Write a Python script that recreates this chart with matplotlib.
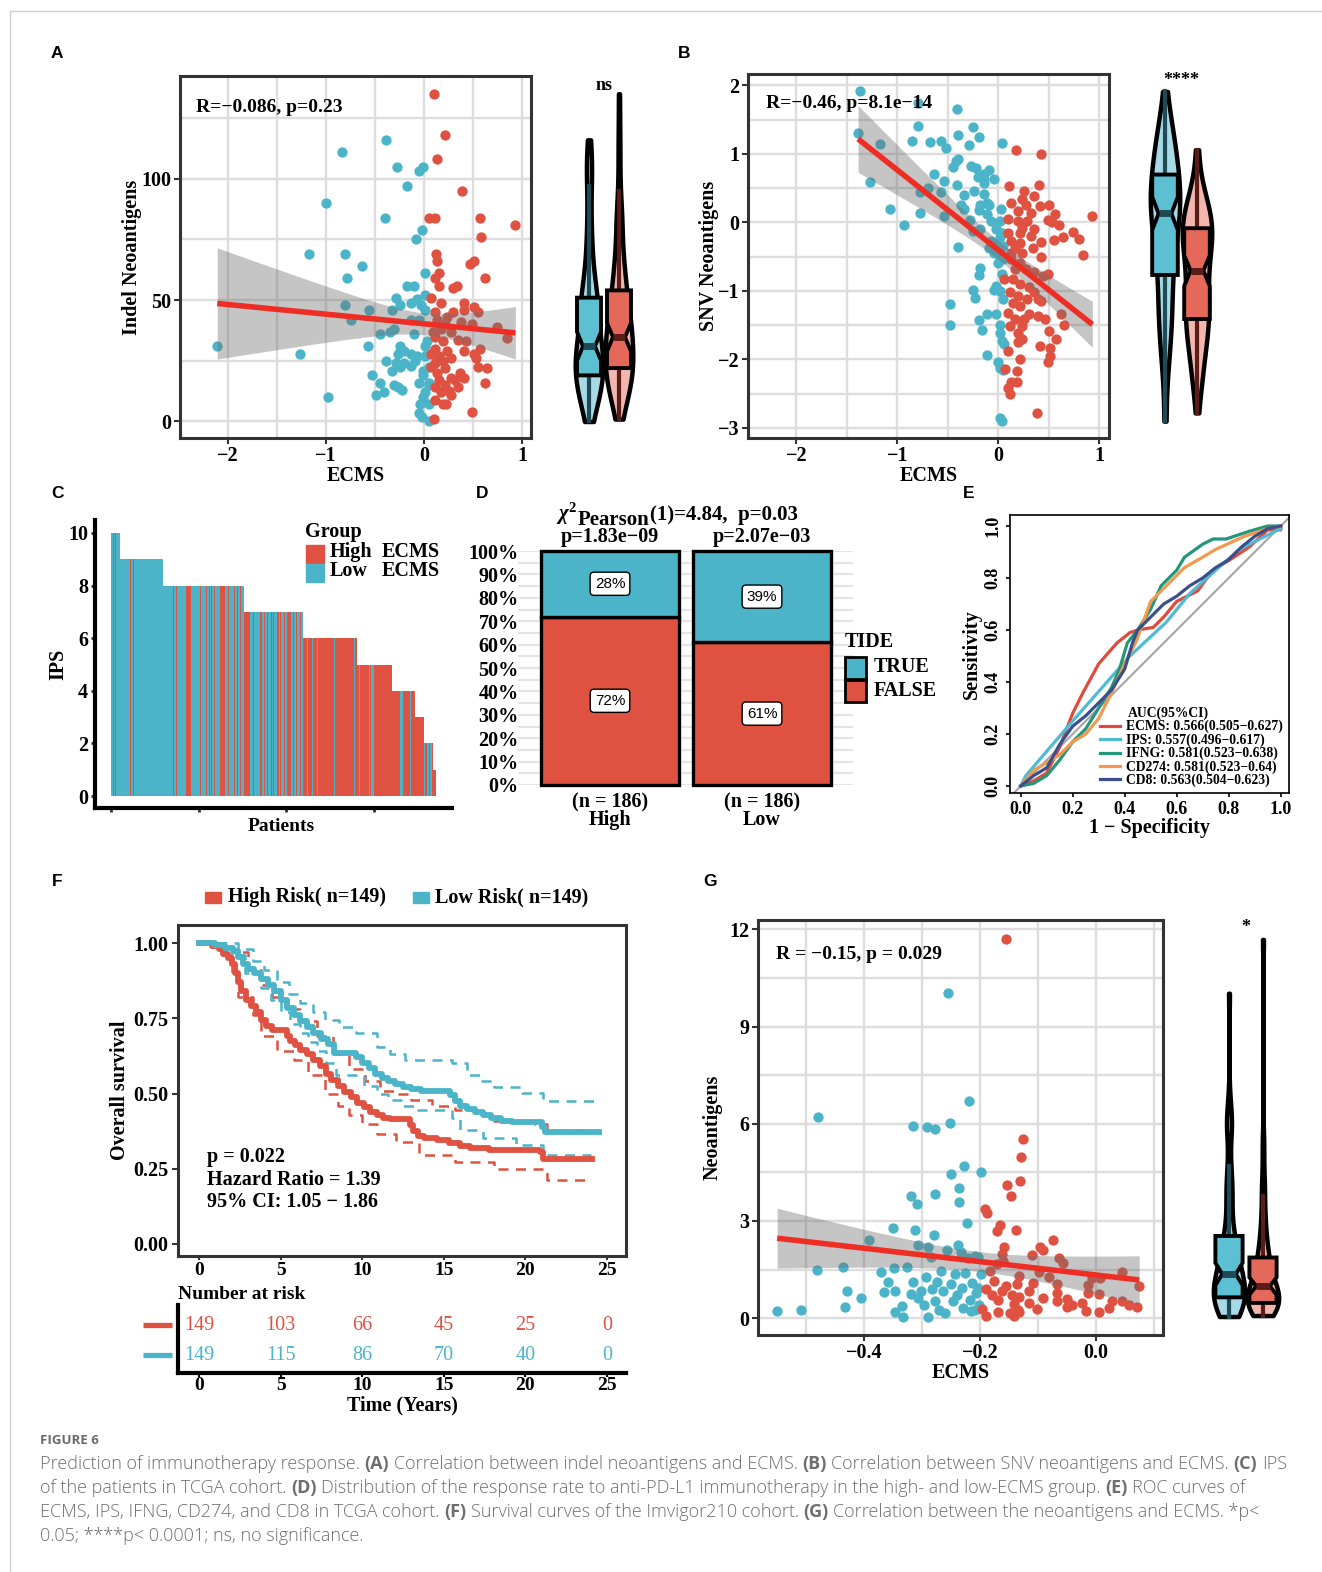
import numpy as np
import matplotlib
matplotlib.use("Agg")
import matplotlib.pyplot as plt
from matplotlib.patches import Rectangle

# ======================= DATA =======================
# Panel A : Indel neoantigens vs ECMS (Low = blue, High = red)
a_low_x = [-0.39, -0.84, -0.28, -0.01, -0.05, -0.17, -1.0, -0.40, -0.02, -0.08,
           -1.17, -0.81, -0.63, -0.79, 0.01, -0.17, -0.10, 0.01, -0.29, -0.13,
           -0.07, -0.25, -0.33, -0.81, -0.56, -0.03, 0.01, -0.05, -0.13, -0.75,
           -0.31, -0.35, -0.45, -0.10, 0.03, 0.01, -0.57, -2.11, -0.25, -0.21,
           -0.27, -0.13, -0.07, -1.27, 0.01, -0.39, -0.29, -0.21, -0.13, -0.09,
           -0.33, -0.25, -0.01, 0.05, -0.53, -0.01, -0.45, -0.05, 0.05, -0.31,
           -0.27, -0.23, 0.05, -0.41, -0.49, 0.01, -0.01, -0.98, -0.04, 0.05,
           -0.05, -0.02, 0.05]
a_low_y = [116, 111, 105, 105, 103, 97, 90, 84, 79, 75,
           69, 69, 64, 59, 61, 56, 56, 52, 51, 49,
           50.5, 48, 46, 48, 46, 48, 46, 42, 42, 42,
           38, 37, 36, 36, 33, 31, 31, 31, 31, 29,
           28, 28, 27, 28, 27, 25, 24, 24, 23, 25,
           21, 22.5, 21, 22.5, 19, 19, 16, 16, 16, 15,
           14, 13, 15, 12, 11, 12, 10, 10, 7, 7,
           3.4, 2, 0]
a_high_x = [0.10, 0.21, 0.13, 0.39, 0.05, 0.11, 0.57, 0.93, 0.58, 0.12,
            0.13, 0.47, 0.51, 0.62, 0.11, 0.15, 0.15, 0.29, 0.34, 0.07,
            0.17, 0.41, 0.51, 0.41, 0.55, 0.29, 0.11, 0.23, 0.13, 0.38,
            0.49, 0.21, 0.74, 0.17, 0.09, 0.27, 0.11, 0.35, 0.85, 0.19,
            0.43, 0.57, 0.11, 0.23, 0.41, 0.07, 0.15, 0.27, 0.51, 0.19,
            0.11, 0.53, 0.07, 0.21, 0.55, 0.64, 0.13, 0.37, 0.41, 0.27,
            0.15, 0.31, 0.62, 0.21, 0.35, 0.11, 0.25, 0.17, 0.27, 0.11,
            0.19, 0.22, 0.49, 0.10]
a_high_y = [135, 118, 108, 95, 84, 84, 84, 81, 76, 69,
            66, 65, 66, 59, 59, 61, 56, 55, 56, 51,
            49, 49, 47, 46, 45, 45, 45, 43, 42, 41,
            40, 40, 39, 38, 37, 37, 35, 33.5, 34.5, 33,
            33, 30, 30, 29, 29, 28, 27, 26, 27.6, 25,
            24, 26, 22.5, 22, 22.5, 22, 20, 20, 18, 18,
            17, 17, 16, 15, 14, 14, 12.6, 12, 11, 9,
            7, 7, 4, 1]

# Panel B : SNV neoantigens vs ECMS
b_low_x = [-1.37, -0.80, -0.41, -1.39, -0.80, -0.25, -0.40, -0.19, -1.17, -0.86,
           -0.68, -0.57, -0.52, -0.29, 0.04, -0.42, -0.40, -0.45, -0.27, -0.22,
           -0.09, -0.14, -0.64, -0.20, -0.14, -0.04, -0.54, -1.27, -0.14, -0.41,
           -0.70, -0.57, -0.24, -0.78, -0.34, -0.14, -0.11, -0.18, -0.09, -0.37,
           -1.07, -0.34, -0.19, 0.03, -0.78, -0.11, -0.54, -0.28, -0.07, 0.02,
           -0.94, -0.18, -0.02, -0.25, 0.04, 0.02, -0.07, 0.0, 0.05, -0.40,
           -0.09, -0.04, 0.02, 0.05, 0.0, -0.18, -0.19, 0.04, -0.02, -0.25,
           -0.04, -0.23, 0.02, 0.05, -0.48, -0.11, -0.02, -0.19, -0.48, -0.16,
           0.02, 0.02, 0.04, 0.06, -0.11, 0.0, 0.02, 0.05, 0.02, 0.04]
b_low_y = [1.91, 1.74, 1.66, 1.31, 1.41, 1.39, 1.28, 1.25, 1.15, 1.19,
           1.17, 1.19, 1.08, 1.13, 1.16, 0.89, 0.93, 0.81, 0.82, 0.79,
           0.77, 0.71, 0.71, 0.66, 0.63, 0.63, 0.60, 0.59, 0.58, 0.54,
           0.50, 0.45, 0.46, 0.44, 0.40, 0.41, 0.29, 0.26, 0.26, 0.25,
           0.20, 0.19, 0.18, 0.19, 0.14, 0.12, 0.09, 0.04, 0.02, 0.02,
           -0.04, -0.10, -0.10, -0.13, -0.15, -0.22, -0.27, -0.30, -0.34, -0.36,
           -0.37, -0.44, -0.49, -0.54, -0.59, -0.66, -0.77, -0.76, -0.93, -0.98,
           -0.99, -1.10, -1.0, -1.12, -1.19, -1.33, -1.33, -1.42, -1.50, -1.57,
           -1.49, -1.61, -1.73, -1.78, -1.94, -2.04, -2.12, -2.15, -2.85, -2.90]
b_high_x = [0.17, 0.42, 0.10, 0.40, 0.25, 0.35, 0.23, 0.12, 0.27, 0.41,
            0.50, 0.19, 0.32, 0.56, 0.93, 0.09, 0.49, 0.19, 0.28, 0.53,
            0.60, 0.23, 0.35, 0.74, 0.09, 0.21, 0.32, 0.64, 0.55, 0.80,
            0.12, 0.21, 0.42, 0.16, 0.34, 0.12, 0.23, 0.84, 0.42, 0.12,
            0.21, 0.16, 0.27, 0.35, 0.49, 0.44, 0.06, 0.14, 0.21, 0.30,
            0.11, 0.35, 0.19, 0.28, 0.39, 0.14, 0.42, 0.21, 0.09, 0.30,
            0.39, 0.16, 0.25, 0.46, 0.62, 0.11, 0.23, 0.65, 0.50, 0.19,
            0.57, 0.23, 0.19, 0.41, 0.51, 0.09, 0.51, 0.21, 0.49, 0.07,
            0.18, 0.12, 0.18, 0.09, 0.11, 0.38]
b_high_y = [1.06, 1.0, 0.53, 0.54, 0.46, 0.38, 0.34, 0.29, 0.26, 0.24,
            0.26, 0.17, 0.14, 0.12, 0.09, 0.05, 0.04, 0.02, 0.02, 0.0,
            -0.04, -0.08, -0.10, -0.14, -0.15, -0.16, -0.20, -0.21, -0.25, -0.24,
            -0.27, -0.30, -0.29, -0.37, -0.37, -0.44, -0.44, -0.47, -0.50, -0.54,
            -0.59, -0.68, -0.68, -0.73, -0.75, -0.78, -0.82, -0.83, -0.90, -0.95,
            -1.02, -1.02, -1.07, -1.12, -1.12, -1.17, -1.15, -1.22, -1.32, -1.34,
            -1.37, -1.41, -1.41, -1.41, -1.34, -1.51, -1.51, -1.50, -1.59, -1.61,
            -1.70, -1.70, -1.75, -1.80, -1.83, -1.87, -1.95, -2.0, -2.04, -2.14,
            -2.17, -2.33, -2.33, -2.41, -2.50, -2.78]

# Panel C : IPS per patient (level, run-length of groups L=Low ECMS, H=High ECMS)
ips_levels = [10, 9, 8, 7, 6, 5, 4, 3, 2, 1]
ips_group_runs = [
    "L2 H1 L2 H1 L4",
    "L9 H1 L2 H1 L2 H1 L1 H1 L15 H1 L15",
    "L12 H1 L2 H1 L11 H5 L11 H1 L6 H1 L2 H1 L2 H1 L2 H1 L6 H6 L3 H1 L3 H1 L2 H1 L2 H1 L3 H1 L3",
    "H7 L4 H1 L7 H2 L2 H1 L2 H2 L3 H1 L2 H1 L3 H2 L2 H1 L3 H1 L3 H4 L2 H1 L3 H1 L3 H1 L3",
    "H4 L1 H5 L1 H5 L1 H12 L1 H5 L1 H22 L1 H3",
    "H2 L1 H3 L1 H6 L2 H1 L3 H3 L1 H17",
    "H9 L3 H8 L1 H5",
    "H10",
    "L1 H1 L1 H1 L2 H1 L2 H1 L1",
    "H3",
]

# Panel D : TIDE response
tide_groups = ["High", "Low"]
tide_n = [186, 186]
tide_true_pct = [28, 39]
tide_false_pct = [72, 61]
tide_group_p = ["p=1.83e\u221209", "p=2.07e\u221203"]

# Panel E : ROC curves
roc_ecms_fpr = [0, 0.05, 0.1, 0.15, 0.2, 0.24, 0.3, 0.37, 0.42, 0.45, 0.51, 0.55, 0.6, 0.68, 0.74, 0.82, 0.88, 0.95, 1.0, 1.0]
roc_ecms_tpr = [0, 0.02, 0.05, 0.15, 0.28, 0.36, 0.47, 0.55, 0.59, 0.60, 0.61, 0.65, 0.71, 0.75, 0.83, 0.88, 0.92, 0.985, 0.985, 1.0]
roc_ips_fpr = [0, 0.02, 0.2, 0.42, 0.56, 0.65, 0.75, 0.84, 1.0]
roc_ips_tpr = [0, 0.04, 0.25, 0.5, 0.63, 0.74, 0.83, 0.91, 0.99]
roc_ifng_fpr = [0, 0.05, 0.1, 0.15, 0.2, 0.25, 0.3, 0.35, 0.38, 0.41, 0.45, 0.5, 0.54, 0.6, 0.63, 0.7, 0.74, 0.79, 0.88, 0.95, 1.0]
roc_ifng_tpr = [0, 0.01, 0.04, 0.1, 0.17, 0.22, 0.3, 0.38, 0.45, 0.55, 0.6, 0.68, 0.77, 0.83, 0.88, 0.93, 0.95, 0.95, 0.98, 1.0, 1.0]
roc_cd274_fpr = [0, 0.05, 0.1, 0.15, 0.2, 0.25, 0.3, 0.35, 0.4, 0.446, 0.5, 0.55, 0.63, 0.7, 0.75, 0.86, 0.95, 1.0]
roc_cd274_tpr = [0, 0.06, 0.09, 0.12, 0.17, 0.2, 0.26, 0.36, 0.47, 0.56, 0.71, 0.76, 0.84, 0.88, 0.91, 0.96, 0.99, 1.0]
roc_cd8_fpr = [0, 0.05, 0.1, 0.15, 0.2, 0.25, 0.3, 0.35, 0.4, 0.43, 0.45, 0.5, 0.55, 0.6, 0.65, 0.7, 0.75, 0.8, 0.85, 0.9, 0.95, 1.0]
roc_cd8_tpr = [0, 0.04, 0.07, 0.16, 0.23, 0.27, 0.32, 0.37, 0.45, 0.55, 0.6, 0.65, 0.7, 0.73, 0.77, 0.8, 0.84, 0.87, 0.92, 0.96, 0.99, 1.0]
roc_labels = ["ECMS: 0.566(0.505\u22120.627)", "IPS: 0.557(0.496\u22120.617)",
              "IFNG: 0.581(0.523\u22120.638)", "CD274: 0.581(0.523\u22120.64)",
              "CD8: 0.563(0.504\u22120.623)"]
roc_colors = ["#DF4A3B", "#4FBAD3", "#23977A", "#F2984F", "#3B4F8C"]

# Panel F : Kaplan-Meier
km_high_t = [0, 0.8, 1.2, 1.5, 1.8, 2.0, 2.2, 2.4, 2.6, 2.9,
             3.2, 3.5, 3.8, 4.1, 4.5, 5.4, 5.6, 5.9, 6.2, 6.6,
             7.0, 7.4, 7.8, 8.1, 8.5, 8.9, 9.3, 9.7, 10.1, 10.5,
             10.9, 11.3, 11.7, 12.9, 13.1, 13.4, 13.8, 14.6, 15.3, 16.0,
             16.6, 17.8, 20.9, 21.1, 24.1]
km_high_s = [1.0, 0.99, 0.98, 0.965, 0.95, 0.93, 0.90, 0.87, 0.84, 0.81,
             0.79, 0.77, 0.745, 0.725, 0.71, 0.69, 0.675, 0.66, 0.645, 0.63,
             0.61, 0.59, 0.565, 0.545, 0.525, 0.505, 0.49, 0.47, 0.455, 0.44,
             0.43, 0.42, 0.414, 0.395, 0.375, 0.36, 0.352, 0.345, 0.335, 0.325,
             0.318, 0.312, 0.305, 0.283, 0.283]
km_low_t = [0, 1.0, 1.6, 2.1, 2.4, 2.7, 3.0, 3.4, 3.8, 4.2,
            4.6, 5.0, 5.4, 5.8, 6.2, 6.6, 7.0, 7.5, 7.9, 8.3,
            9.6, 10.0, 10.4, 10.8, 11.2, 11.6, 12.0, 12.5, 13.0, 13.6,
            15.4, 15.7, 16.0, 16.4, 16.9, 17.4, 17.9, 18.5, 19.2, 19.7,
            21.0, 21.2, 24.5]
km_low_s = [1.0, 0.995, 0.985, 0.975, 0.955, 0.93, 0.915, 0.90, 0.88, 0.86,
            0.84, 0.81, 0.785, 0.76, 0.74, 0.72, 0.70, 0.68, 0.665, 0.635,
            0.62, 0.60, 0.585, 0.565, 0.55, 0.54, 0.53, 0.52, 0.515, 0.51,
            0.495, 0.475, 0.46, 0.45, 0.44, 0.43, 0.42, 0.41, 0.405, 0.405,
            0.39, 0.372, 0.372]
ci_high_up_t = [0, 2.0, 3.0, 3.8, 4.5, 5.3, 6.2, 7.2, 8.2, 9.2, 10.2, 11.1, 12.0, 13.0, 14.3, 15.7, 17.0, 18.1, 20.6, 21.3, 24.0]
ci_high_up_s = [1.0, 0.97, 0.91, 0.86, 0.82, 0.78, 0.74, 0.69, 0.63, 0.58, 0.54, 0.51, 0.50, 0.48, 0.46, 0.445, 0.43, 0.41, 0.40, 0.38, 0.38]
ci_high_lo_t = [0, 1.5, 2.0, 2.4, 3.3, 3.8, 4.8, 5.8, 6.7, 7.7, 8.5, 9.2, 10.0, 10.9, 12.1, 13.5, 15.7, 18.1, 20.6, 21.3, 23.7]
ci_high_lo_s = [1.0, 0.96, 0.90, 0.82, 0.76, 0.69, 0.64, 0.61, 0.56, 0.50, 0.46, 0.43, 0.40, 0.364, 0.34, 0.295, 0.272, 0.25, 0.248, 0.214, 0.214]
ci_low_up_t = [0, 2.4, 3.3, 4.0, 4.8, 5.5, 6.2, 7.0, 7.7, 8.6, 9.6, 10.9, 11.7, 12.6, 15.5, 16.4, 17.2, 18.1, 19.8, 21.1, 24.5]
ci_low_up_s = [1.0, 0.98, 0.94, 0.91, 0.87, 0.83, 0.80, 0.77, 0.745, 0.72, 0.70, 0.653, 0.63, 0.613, 0.60, 0.56, 0.54, 0.52, 0.503, 0.474, 0.474]
ci_low_lo_t = [0, 2.0, 2.8, 3.8, 4.4, 5.0, 5.6, 6.2, 6.7, 7.2, 7.8, 8.4, 10.1, 10.9, 11.6, 12.4, 13.3, 15.5, 16.0, 17.4, 19.4, 21.1, 24.0]
ci_low_lo_s = [1.0, 0.96, 0.90, 0.85, 0.81, 0.77, 0.73, 0.70, 0.67, 0.64, 0.60, 0.56, 0.526, 0.50, 0.48, 0.46, 0.445, 0.42, 0.38, 0.353, 0.33, 0.295, 0.295]
risk_times = [0, 5, 10, 15, 20, 25]
risk_high = [149, 103, 66, 45, 25, 0]
risk_low = [149, 115, 86, 70, 40, 0]

# Panel G : Neoantigens vs ECMS
g_low_x = [-0.549, -0.508, -0.478, -0.481, -0.436, -0.428, -0.432, -0.405, -0.391, -0.370,
           -0.359, -0.366, -0.349, -0.348, -0.347, -0.346, -0.334, -0.332, -0.326, -0.318,
           -0.315, -0.309, -0.312, -0.306, -0.316, -0.318, -0.307, -0.301, -0.297, -0.292,
           -0.289, -0.293, -0.289, -0.284, -0.279, -0.277, -0.278, -0.282, -0.277, -0.274,
           -0.270, -0.267, -0.260, -0.264, -0.257, -0.255, -0.251, -0.250, -0.250, -0.247,
           -0.243, -0.240, -0.238, -0.236, -0.236, -0.233, -0.230, -0.228, -0.231, -0.226,
           -0.223, -0.220, -0.219, -0.218, -0.216, -0.213, -0.209, -0.206, -0.203, -0.201,
           -0.199, -0.199, -0.203, -0.209]
g_low_y = [0.21, 0.26, 6.21, 1.49, 1.58, 0.85, 0.35, 0.62, 2.41, 1.42,
           1.12, 0.81, 2.78, 1.56, 0.85, 0.19, 0.36, 0.05, 1.58, 3.76,
           5.94, 3.53, 2.72, 2.26, 1.12, 0.75, 0.62, 0.83, 0.42, 5.90,
           2.20, 1.27, 0.05, 1.89, 2.58, 5.84, 3.84, 0.91, 0.54, 1.12,
           0.26, 1.45, 0.16, 0.85, 2.10, 10.03, 6.01, 4.45, 1.06, 0.52,
           1.35, 0.71, 2.26, 4.03, 3.58, 2.03, 0.31, 4.70, 0.94, 1.40,
           2.93, 1.87, 6.69, 0.57, 0.21, 1.09, 1.92, 0.78, 1.89, 0.42,
           4.52, 1.37, 0.94, 0.26]
g_high_x = [-0.155, -0.126, -0.130, -0.131, -0.153, -0.147, -0.192, -0.188, -0.138, -0.166,
            -0.170, -0.075, -0.097, -0.091, -0.158, -0.162, -0.111, -0.064, -0.057, -0.161,
            -0.171, -0.182, -0.098, 0.044, -0.132, -0.082, -0.007, 0.007, -0.176, -0.108,
            -0.137, -0.068, -0.155, -0.014, 0.074, -0.189, -0.115, -0.162, -0.068, -0.014,
            0.005, -0.145, -0.179, -0.132, -0.091, -0.051, -0.169, -0.068, 0.027, 0.044,
            -0.024, -0.115, -0.142, -0.041, 0.057, -0.051, 0.071, -0.196, -0.101, 0.022,
            -0.135, -0.017, -0.169, 0.005, -0.149, -0.132, -0.189, -0.142]
g_high_y = [11.69, 5.53, 4.97, 4.24, 4.10, 3.77, 3.36, 3.24, 2.72, 2.86,
            2.70, 2.41, 2.20, 2.10, 2.20, 1.99, 1.94, 1.85, 1.71, 1.77,
            1.68, 1.45, 1.42, 1.42, 1.30, 1.27, 1.23, 1.23, 1.14, 1.09,
            1.04, 1.04, 0.99, 1.02, 0.99, 0.91, 0.85, 0.83, 0.78, 0.78,
            0.75, 0.73, 0.71, 0.64, 0.62, 0.60, 0.57, 0.52, 0.54, 0.54,
            0.47, 0.47, 0.44, 0.42, 0.42, 0.33, 0.33, 0.29, 0.29, 0.31,
            0.26, 0.23, 0.19, 0.19, 0.16, 0.19, 0.08, 0.08]

caption_lines = [
    [("Prediction of immunotherapy response.", False), ("(A)", True),
     ("Correlation between indel neoantigens and ECMS.", False), ("(B)", True),
     ("Correlation between SNV neoantigens and ECMS.", False), ("(C)", True), ("IPS", False)],
    [("of the patients in TCGA cohort.", False), ("(D)", True),
     ("Distribution of the response rate to anti-PD-L1 immunotherapy in the high- and low-ECMS group.", False),
     ("(E)", True), ("ROC curves of", False)],
    [("ECMS, IPS, IFNG, CD274, and CD8 in TCGA cohort.", False), ("(F)", True),
     ("Survival curves of the Imvigor210 cohort.", False), ("(G)", True),
     ("Correlation between the neoantigens and ECMS. *p<", False)],
    [("0.05; ****p< 0.0001; ns, no significance.", False)],
]

# ======================= STYLE =======================
W, H = 1322, 1572
SERIF = ["Liberation Serif", "DejaVu Serif"]
SANS = ["Liberation Sans", "DejaVu Sans"]
plt.rcParams.update({
    "font.family": SERIF,
    "font.weight": "bold",
    "axes.labelweight": "bold",
    "axes.titleweight": "bold",
    "mathtext.fontset": "custom",
    "mathtext.rm": "Liberation Serif:bold",
    "mathtext.it": "Liberation Serif:italic:bold",
    "mathtext.bf": "Liberation Serif:bold",
    "axes.unicode_minus": True,
})
RED = "#DF5242"
BLUE = "#4BB4C9"
FIT_RED = "#EE2E24"
GRID = "#DDDDDD"
SPINE = "#333333"
BLUE_LIGHT, BLUE_MID, BLUE_DARK = "#A7DAE6", "#5CBFD2", "#1E4B55"
RED_LIGHT, RED_MID, RED_DARK = "#F2B6AE", "#E5695B", "#5B1D17"

fig = plt.figure(figsize=(W / 100, H / 100), dpi=100)
fig.patch.set_facecolor("white")


def add_ax(x0, y0, x1, y1):
    return fig.add_axes([x0 / W, 1 - y1 / H, (x1 - x0) / W, (y1 - y0) / H])


ov = fig.add_axes([0, 0, 1, 1])
ov.set_xlim(0, W)
ov.set_ylim(H, 0)
ov.axis("off")
ov.set_zorder(10)
renderer = fig.canvas.get_renderer()


def lin_fit(x, y):
    x = np.asarray(x, float)
    y = np.asarray(y, float)
    n = len(x)
    b, a = np.polyfit(x, y, 1)
    xs = np.linspace(x.min(), x.max(), 120)
    yh = a + b * xs
    s = np.sqrt(np.sum((y - (a + b * x)) ** 2) / (n - 2))
    se = s * np.sqrt(1 / n + (xs - x.mean()) ** 2 / np.sum((x - x.mean()) ** 2))
    return xs, yh, yh - 1.97 * se, yh + 1.97 * se


def scatter_panel(box, xlim, ylim, xmaj, xminr, ymaj, yminr, lx, ly, hx, hy,
                  rtext, rpos, xlabel, ylabel, ylabelpad):
    ax = add_ax(*box)
    ax.set_xlim(*xlim)
    ax.set_ylim(*ylim)
    for v in list(xmaj) + list(xminr):
        ax.axvline(v, color=GRID, lw=1.7, zorder=0)
    for v in list(ymaj) + list(yminr):
        ax.axhline(v, color=GRID, lw=1.7, zorder=0)
    ax.scatter(lx, ly, s=55, color=BLUE, lw=0, zorder=2)
    ax.scatter(hx, hy, s=55, color=RED, lw=0, zorder=2)
    xs, yh, lo, hi = lin_fit(list(lx) + list(hx), list(ly) + list(hy))
    ax.fill_between(xs, lo, hi, color="#6E6E6E", alpha=0.4, lw=0, zorder=3)
    ax.plot(xs, yh, color=FIT_RED, lw=4, zorder=4, solid_capstyle="butt")
    ax.set_xticks(xmaj)
    ax.set_yticks(ymaj)
    for sp in ax.spines.values():
        sp.set_color(SPINE)
        sp.set_linewidth(2.2)
    ax.tick_params(length=4, width=1.5, color=SPINE, labelsize=14.5, pad=2)
    ax.text(rpos[0], rpos[1], rtext, transform=ax.transAxes, fontsize=14,
            ha="left", va="center", zorder=6)
    ax.set_xlabel(xlabel, fontsize=14.5, labelpad=0)
    ax.set_ylabel(ylabel, fontsize=14.5, labelpad=ylabelpad)
    return ax


def nrd0(kde):
    d = np.ravel(kde.dataset)
    sd = d.std(ddof=1)
    q75, q25 = np.percentile(d, [75, 25])
    h = 0.9 * min(sd, (q75 - q25) / 1.34) * len(d) ** (-0.2)
    return h / sd


def violin_panel(cx1, cx2, y0, y1, ylim, low, high, sig, sig_frac, sig_size):
    u = cx2 - cx1
    ax = add_ax(cx1 - u, y0, cx2 + u, y1)
    ax.set_xlim(0, 3)
    ax.set_ylim(*ylim)
    ax.axis("off")
    parts = ax.violinplot([low, high], positions=[1, 2], widths=0.92,
                          showextrema=False, bw_method=nrd0)
    for body, c in zip(parts["bodies"], [BLUE_LIGHT, RED_LIGHT]):
        body.set_facecolor(c)
        body.set_edgecolor("black")
        body.set_linewidth(3.2)
        body.set_alpha(1)
        body.set_zorder(1)
    bp = ax.boxplot([low, high], positions=[1, 2], widths=0.8, notch=True,
                    patch_artist=True, showfliers=False, showcaps=False,
                    manage_ticks=False)
    for i, (c, d) in enumerate(zip([BLUE_MID, RED_MID], [BLUE_DARK, RED_DARK])):
        bp["boxes"][i].set(facecolor=c, edgecolor="black", linewidth=2.8, zorder=2)
        for w in bp["whiskers"][2 * i:2 * i + 2]:
            w.set(color=d, linewidth=3, zorder=1.5)
        bp["medians"][i].set(color=d, linewidth=5, zorder=3)
    ax.text(1.5, sig_frac, sig, transform=ax.get_xaxis_transform(), ha="center",
            va="center", fontsize=sig_size)
    return ax


# ======================= PANEL A =======================
A_ylim = (-6.8, 142.3)
scatter_panel((180, 76, 531, 438), (-2.49, 1.09), A_ylim,
              [-2, -1, 0, 1], [-1.5, -0.5, 0.5], [0, 50, 100], [25, 75, 125],
              a_low_x, a_low_y, a_high_x, a_high_y,
              "R=\u22120.086, p=0.23", (0.046, 0.914), "ECMS", "Indel Neoantigens", 0)
violin_panel(589, 619, 76, 438, A_ylim, a_low_y, a_high_y, "ns", 0.975, 13)

# ======================= PANEL B =======================
B_ylim = (-3.146, 2.165)
scatter_panel((748, 74, 1109, 438), (-2.48, 1.095), B_ylim,
              [-2, -1, 0, 1], [-1.5, -0.5, 0.5], [-3, -2, -1, 0, 1, 2],
              [-2.5, -1.5, -0.5, 0.5, 1.5],
              b_low_x, b_low_y, b_high_x, b_high_y,
              "R=\u22120.46, p=8.1e\u221214", (0.05, 0.92), "ECMS", "SNV Neoantigens", -1)
violin_panel(1165, 1197, 74, 438, B_ylim, b_low_y, b_high_y, "****", 0.983, 13)

# ======================= PANEL G =======================
G_ylim = (-0.52, 12.29)
scatter_panel((758, 920, 1163, 1335), (-0.582, 0.115), G_ylim,
              [-0.4, -0.2, 0.0], [-0.5, -0.3, -0.1, 0.1], [0, 3, 6, 9, 12],
              [1.5, 4.5, 7.5, 10.5],
              g_low_x, g_low_y, g_high_x, g_high_y,
              "R = \u22120.15, p = 0.029", (0.044, 0.916), "ECMS", "Neoantigens", 5)
violin_panel(1229, 1263, 920, 1335, G_ylim, g_low_y, g_high_y, "*", 0.981, 13)

# ======================= PANEL C =======================
ips_vals, ips_grp = [], []
for lvl, runs in zip(ips_levels, ips_group_runs):
    for tok in runs.split():
        ips_vals += [lvl] * int(tok[1:])
        ips_grp += [tok[0]] * int(tok[1:])
nC = len(ips_vals)
axC = add_ax(95, 520, 452, 808)
ppb = (436 - 111) / nC
axC.set_xlim(-0.5 - (111 - 95) / ppb, nC - 0.5 + (452 - 436) / ppb)
ppu = (796 - 533) / 10
axC.set_ylim(-(808 - 796) / ppu, 10 + (533 - 520) / ppu)
axC.bar(np.arange(nC), ips_vals, width=1.0,
        color=[RED if g == "H" else BLUE for g in ips_grp], lw=0, antialiased=False)
axC.spines["top"].set_visible(False)
axC.spines["right"].set_visible(False)
for s in ("left", "bottom"):
    axC.spines[s].set_linewidth(3)
    axC.spines[s].set_color("black")
axC.set_yticks([0, 2, 4, 6, 8, 10])
axC.set_xticks([0, 100, 200, 300])
axC.set_xticklabels([])
axC.tick_params(labelsize=14.5, length=3, width=2, color="#333333", pad=2)
axC.set_ylabel("IPS", fontsize=14.5, labelpad=0)
axC.set_xlabel("Patients", fontsize=14, labelpad=2)
axC.xaxis.set_label_coords((281 - 95) / (452 - 95), -0.035, transform=axC.transAxes)
axC.xaxis.label.set_va("top")
# legend
ov.text(305, 532, "Group", fontsize=14.5, ha="left", va="center")
ov.add_patch(Rectangle((306, 545), 18, 18, color=RED))
ov.add_patch(Rectangle((306, 564), 18, 18, color=BLUE))
ov.text(330, 552, "High", fontsize=14.5, ha="left", va="center")
ov.text(382, 552, "ECMS", fontsize=14.5, ha="left", va="center")
ov.text(330, 571, "Low", fontsize=14.5, ha="left", va="center")
ov.text(382, 571, "ECMS", fontsize=14.5, ha="left", va="center")

# ======================= PANEL D =======================
axD = add_ax(518, 551, 853, 785)
axD.set_xlim(1 - 92 / 152, 2 + 91 / 152)
axD.set_ylim(0, 1)
for v in np.arange(0, 1.001, 0.05):
    axD.axhline(v, color="#E4E4E4", lw=1.6, zorder=0)
pos = np.arange(1, len(tide_groups) + 1)
fvals = np.array(tide_false_pct) / 100
tvals = np.array(tide_true_pct) / 100
axD.bar(pos, fvals, width=0.908, color=RED, edgecolor="black", lw=2.4, zorder=2, clip_on=False)
axD.bar(pos, tvals, bottom=fvals, width=0.908, color=BLUE, edgecolor="black", lw=2.4,
        zorder=2, clip_on=False)
for p, f, t, pv in zip(pos, tide_false_pct, tide_true_pct, tide_group_p):
    for val, yc in ((f, f / 200), (t, (f + t / 2) / 100)):
        axD.text(p, yc, f"{val}%", ha="center", va="center", family=SANS,
                 fontweight="normal", fontsize=11, zorder=5,
                 bbox=dict(boxstyle="round,pad=0.3,rounding_size=0.25", fc="white",
                           ec="black", lw=1))
    axD.text(p, 1 + 14 / 234, pv, ha="center", va="center", fontsize=14.5)
for s in axD.spines.values():
    s.set_visible(False)
axD.set_yticks(np.arange(0, 1.001, 0.1))
axD.set_yticklabels([f"{int(round(v * 100))}%" for v in np.arange(0, 1.001, 0.1)])
axD.set_xticks(pos)
axD.set_xticklabels([f"(n = {n})\n{g}" for n, g in zip(tide_n, tide_groups)], linespacing=0.85)
axD.tick_params(axis="y", left=False, labelsize=14.5, pad=-4)
axD.tick_params(axis="x", bottom=False, labelsize=14.5, pad=2)

# composed title  chi^2 _Pearson (1)=4.84,  p=0.03
title_parts = [(r"$\chi^{2}$", 0), ("Pearson", 5), ("(1)=4.84,  p=0.03", 0)]
tw = []
for s, dy in title_parts:
    t = ov.text(0, 0, s, fontsize=15)
    tw.append(t.get_window_extent(renderer=renderer).width)
    t.remove()
x = 677 - sum(tw) / 2
for (s, dy), w in zip(title_parts, tw):
    ov.text(x, 520 + dy, s, fontsize=15, ha="left", va="baseline")
    x += w

ov.text(845, 642, "TIDE", fontsize=14.5, ha="left", va="center")
ov.add_patch(Rectangle((845, 657), 21, 22, facecolor=BLUE, edgecolor="black", lw=2))
ov.add_patch(Rectangle((845, 680), 21, 22, facecolor=RED, edgecolor="black", lw=2))
ov.text(874, 667, "TRUE", fontsize=14.5, ha="left", va="center")
ov.text(874, 691, "FALSE", fontsize=14.5, ha="left", va="center")

# ======================= PANEL E =======================
axE = add_ax(1010, 515, 1289, 793)
axE.set_xlim((1010 - 1020.7) / 260, (1289 - 1020.7) / 260)
axE.set_ylim((786 - 793) / 260, (786 - 515) / 260)
axE.axline((0, 0), (1, 1), color="#A5A5A5", lw=1.5, zorder=1)
roc_sets = [(roc_ecms_fpr, roc_ecms_tpr), (roc_ips_fpr, roc_ips_tpr),
            (roc_ifng_fpr, roc_ifng_tpr), (roc_cd274_fpr, roc_cd274_tpr),
            (roc_cd8_fpr, roc_cd8_tpr)]
handles = []
for (fx, ty), c, lab in zip(roc_sets, roc_colors, roc_labels):
    ln, = axE.plot(fx, ty, color=c, lw=2.3, label=lab, zorder=2)
    handles.append(ln)
for s in axE.spines.values():
    s.set_color("black")
    s.set_linewidth(1.2)
ticksE = np.arange(0, 1.001, 0.2)
axE.set_xticks(ticksE)
axE.set_xticklabels([f"{v:.1f}" for v in ticksE])
axE.set_yticks(ticksE)
axE.set_yticklabels([f"{v:.1f}" for v in ticksE], rotation=90, va="center")
axE.tick_params(labelsize=13, length=3, width=1.2, pad=3)
axE.set_xlabel("1 \u2212 Specificity", fontsize=14.5, labelpad=0)
axE.set_ylabel("Sensitivity", fontsize=14.5, labelpad=2)
axE.legend(handles=handles, loc="upper left", bbox_to_anchor=(1100 / W, 1 - 720 / H),
           bbox_transform=fig.transFigure, frameon=False, borderpad=0, borderaxespad=0,
           handlelength=1.5, handletextpad=0.4, labelspacing=0.0,
           prop=dict(family=SERIF, weight="bold", size=9.8))
ov.text(1128, 713, "AUC(95%CI)", fontsize=9.8, ha="left", va="center")

# ======================= PANEL F =======================
axF = add_ax(178, 925, 626, 1256)
F_xlim = ((178 - 199) / 16.32, (626 - 199) / 16.32)
axF.set_xlim(*F_xlim)
axF.set_ylim(-0.04, 1.06)
for (t, s) in [(ci_high_up_t, ci_high_up_s), (ci_high_lo_t, ci_high_lo_s)]:
    axF.step(t, s, where="post", color=RED, lw=1.8, ls=(0, (4, 3)), zorder=2)
for (t, s) in [(ci_low_up_t, ci_low_up_s), (ci_low_lo_t, ci_low_lo_s)]:
    axF.step(t, s, where="post", color=BLUE, lw=1.8, ls=(0, (4, 3)), zorder=2)
axF.step(km_high_t, km_high_s, where="post", color=RED, lw=4.2, zorder=3)
axF.step(km_low_t, km_low_s, where="post", color=BLUE, lw=4.2, zorder=3)
for s in axF.spines.values():
    s.set_color(SPINE)
    s.set_linewidth(2.2)
axF.set_xticks(risk_times)
axF.set_yticks([0, 0.25, 0.5, 0.75, 1.0])
axF.set_yticklabels(["0.00", "0.25", "0.50", "0.75", "1.00"])
axF.tick_params(axis="y", length=4, width=1.5, color=SPINE, labelsize=14.5, pad=3)
axF.tick_params(axis="x", length=3, width=1.5, color=SPINE, labelsize=14, pad=1)
axF.set_ylabel("Overall survival", fontsize=14.5, labelpad=2)
axF.text(0.065, 0.299, "p = 0.022", transform=axF.transAxes, fontsize=14.5, va="center")
axF.text(0.065, 0.23, "Hazard Ratio = 1.39", transform=axF.transAxes, fontsize=14.5, va="center")
axF.text(0.065, 0.163, "95% CI: 1.05 \u2212 1.86", transform=axF.transAxes, fontsize=14.5, va="center")
ov.add_patch(Rectangle((205, 892), 16, 11, color=RED))
ov.text(228, 897, "High Risk( n=149)", fontsize=14.5, ha="left", va="center")
ov.add_patch(Rectangle((413, 892), 16, 11, color=BLUE))
ov.text(435, 897, "Low Risk( n=149)", fontsize=14.5, ha="left", va="center")

axR = add_ax(178, 1305, 626, 1373)
axR.set_xlim(*F_xlim)
axR.set_ylim(0, 1)
for t, nh, nl in zip(risk_times, risk_high, risk_low):
    axR.text(t, (1373 - 1325) / 68, str(nh), color=RED, ha="center", va="center",
             fontsize=14.5, fontweight="normal")
    axR.text(t, (1373 - 1355) / 68, str(nl), color=BLUE, ha="center", va="center",
             fontsize=14.5, fontweight="normal")
axR.spines["top"].set_visible(False)
axR.spines["right"].set_visible(False)
for s in ("left", "bottom"):
    axR.spines[s].set_linewidth(3)
    axR.spines[s].set_color("black")
axR.set_yticks([])
axR.set_xticks(risk_times)
axR.tick_params(length=3, width=1.5, labelsize=14, pad=0)
axR.set_xlabel("Time (Years)", fontsize=14.5, labelpad=1)
axR.set_title("Number at risk", loc="left", fontsize=14, pad=4)
ov.plot([143, 172], [1325, 1325], color=RED, lw=3.8, solid_capstyle="butt")
ov.plot([143, 172], [1355, 1355], color=BLUE, lw=3.8, solid_capstyle="butt")

# ======================= LABELS / FRAME / CAPTION =======================
for lab, x, y in [("A", 57, 53), ("B", 684, 53), ("C", 57, 493), ("D", 482, 493),
                  ("E", 969, 493), ("F", 57, 882), ("G", 710, 882)]:
    ov.text(x, y, lab, family=SANS, fontweight="bold", fontsize=12.5, ha="center", va="center")
ov.plot([10, W], [11, 11], color="#CCCCCC", lw=1)
ov.plot([10, 10], [11, H], color="#CCCCCC", lw=1)
ov.text(40, 1441, "FIGURE 6", family=["Open Sans", "DejaVu Sans"], fontweight="bold",
        fontsize=9.5, color="#6A6A6A", ha="left", va="center")

CAP_FONT = ["Open Sans", "DejaVu Sans"]


def text_w(s, size, bold):
    t = ov.text(0, 0, s, family=CAP_FONT, fontsize=size,
                fontweight="bold" if bold else "light")
    w = t.get_window_extent(renderer=renderer).width
    t.remove()
    return w


def line_w(parts, size):
    sp = text_w("a a", size, False) - text_w("aa", size, False)
    return sum(text_w(s, size, b) for s, b in parts) + sp * (len(parts) - 1), sp


w12, _ = line_w(caption_lines[0], 12)
cap_size = 12 * (1243 / w12)
for i, parts in enumerate(caption_lines):
    _, sp = line_w(parts, cap_size)
    x = 40
    y = 1464 + 24 * i
    for s, b in parts:
        t = ov.text(x, y, s, family=CAP_FONT, fontsize=cap_size,
                    fontweight="bold" if b else "light", color="#6E6E6E",
                    ha="left", va="center")
        x += t.get_window_extent(renderer=renderer).width + sp

fig.savefig("out.png", dpi=100, facecolor="white")
